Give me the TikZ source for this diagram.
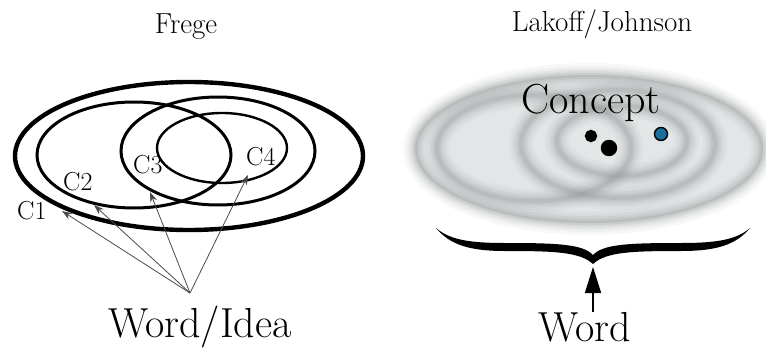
\documentclass[tikz,border=0pt]{standalone}
\definecolor{ringGray}{HTML}{8A8F8F}
\definecolor{haloGray}{HTML}{E3E6E6}
\definecolor{dotBlue}{HTML}{1B6E9C}
\definecolor{leadGray}{HTML}{4A4A4A}
\usetikzlibrary{positioning, arrows.meta}

\begin{document}
\begin{tikzpicture}[x=1pt, y=-1pt,
      title/.style={font=\fontsize{29}{31}\selectfont, anchor=base, inner sep=0pt},
      big/.style={font=\fontsize{42}{44}\selectfont, anchor=base, inner sep=0pt},
      clabel/.style={font=\fontsize{26}{28}\selectfont, anchor=base west, inner sep=0pt},
      lead/.style={-{Stealth[length=10pt, width=7pt]}, line width=0.8pt, leadGray},
      dot/.style={circle, draw=black, line width=1.4pt, inner sep=0pt, fill=#1},
      uparr/.style={-{Triangle[length=26pt, width=16pt]}, line width=1.6pt}]
    \useasboundingbox (0,0) rectangle (766,348);

    % Frege: sharp, nested concepts
    \node[title] (frege) at (186,33) {Frege};
    \draw[line width=4.4pt] (189,156) ellipse [x radius=174, y radius=74];
    \draw[line width=3pt] (134,155) ellipse [x radius=97, y radius=53];
    \draw[line width=3pt] (218,151) ellipse [x radius=97, y radius=54];
    \draw[line width=2.4pt] (222,148) ellipse [x radius=65, y radius=35];
    \node[clabel] (c1) at (17,219) {C1};
    \node[clabel] (c2) at (63,190) {C2};
    \node[clabel] (c3) at (133,173) {C3};
    \node[clabel] (c4) at (246,165) {C4};

    \node[big] (idea) at (200,337) {Word/Idea};
    \coordinate (src) at (190,293);
    \coordinate (t1) at (62,211);
    \coordinate (t2) at (94,205);
    \coordinate (t3) at (150,192);
    \coordinate (t4) at (248,175);
    \foreach \t in {t1,t2,t3,t4}
      \draw[lead] (src) -- (\t);

    % Lakoff/Johnson: blurred concepts
    \node[title] (lakoff) at (602,31) {Lakoff/Johnson};
    \fill[haloGray] (589,149) ellipse [x radius=174, y radius=74];
    \foreach \w/\o in {24/0.06, 18/0.08, 13/0.11, 8/0.14, 4/0.17} {
      \draw[ringGray, line width=\w pt, opacity=\o] (589,149) ellipse [x radius=174, y radius=74];
      \draw[ringGray, line width=\w pt, opacity=\o] (534,148) ellipse [x radius=97, y radius=53];
      \draw[ringGray, line width=\w pt, opacity=\o] (618,144) ellipse [x radius=97, y radius=54];
      \draw[ringGray, line width=\w pt, opacity=\o] (622,141) ellipse [x radius=65, y radius=35];
    }
    \node[big] (concept) at (591,113) {Concept};
    \node[dot=black, minimum size=11pt] (d1) at (591,136) {};
    \node[dot=black, minimum size=15pt] (d2) at (609,148) {};
    \node[dot=dotBlue, minimum size=13pt] (d3) at (661,134) {};

    % brace
    \fill (436,228) .. controls (450,245) and (470,251) .. (505,251)
      .. controls (555,251) and (580,252) .. (593,264)
      .. controls (606,252) and (631,251) .. (681,251)
      .. controls (716,251) and (736,245) .. (750,228)
      .. controls (736,240) and (716,243) .. (681,243)
      .. controls (630,243) and (603,244) .. (593,255)
      .. controls (583,244) and (556,243) .. (505,243)
      .. controls (470,243) and (450,240) .. (436,228) -- cycle;
    \coordinate (tip) at (593,267);

    \node[big] (word) at (585,341) {Word};
    \draw[uparr] (tip |- word.north) -- (tip);
  \end{tikzpicture}
\end{document}
